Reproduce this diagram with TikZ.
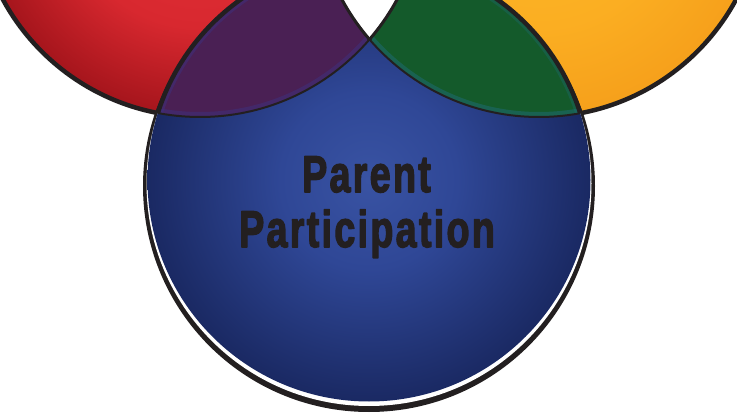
\documentclass[tikz,border=0pt]{standalone}
\usepackage{fontspec}
\setmainfont{Liberation Sans}
\newfontfamily\titlefont{Liberation Sans}[UprightFont=* Bold, LetterSpace=6, FakeBold=3]
\definecolor{ink}{HTML}{231F20}
\definecolor{redin}{HTML}{E3323A}
\definecolor{redmid}{HTML}{D8282F}
\definecolor{redout}{HTML}{A5151C}
\definecolor{yelin}{HTML}{FDB827}
\definecolor{yelmid}{HTML}{FBAE22}
\definecolor{yelout}{HTML}{F6A01B}
\definecolor{bluein}{HTML}{3953A3}
\definecolor{bluemid}{HTML}{2F4796}
\definecolor{blueout}{HTML}{1A2963}
\definecolor{purplefill}{HTML}{4A2054}
\definecolor{greenfill}{HTML}{145A2B}
\definecolor{purpleglow}{HTML}{3D307E}
\definecolor{greenglow}{HTML}{1F6B78}
\pgfdeclareradialshading{redball}{\pgfpoint{0bp}{0bp}}{color(0bp)=(redin); color(15bp)=(redmid); color(25bp)=(redout); color(50bp)=(redout)}
\pgfdeclareradialshading{yelball}{\pgfpoint{0bp}{0bp}}{color(0bp)=(yelin); color(15bp)=(yelmid); color(25bp)=(yelout); color(50bp)=(yelout)}
\pgfdeclareradialshading{blueball}{\pgfpoint{0bp}{0bp}}{color(0bp)=(bluein); color(10bp)=(bluemid); color(25bp)=(blueout); color(50bp)=(blueout)}
\tikzset{
  outline/.style={draw=ink, line width=4.5pt},
  thinline/.style={draw=ink, line width=2pt},
  title/.style={font=\titlefont\fontsize{51.7pt}{60pt}\selectfont, text=ink, inner sep=0pt, anchor=base, xscale=0.73},
}
\begin{document}
\begin{tikzpicture}[x=1pt,y=-1pt,line join=round]
\useasboundingbox (0,0) rectangle (737,417);
\fill[white] (0,0) rectangle (737,417);
\coordinate (rc) at (200,-107);
\coordinate (yc) at (539,-107);
\coordinate (bc) at (369,180);
\coordinate (kc) at (369,186);
\coordinate (wc) at (369,183.5);
% red and yellow circles
\shade[shading=redball] (rc) circle[radius=224pt];
\draw[outline] (rc) circle[radius=224pt];
\shade[shading=yelball] (yc) circle[radius=224pt];
\draw[outline] (yc) circle[radius=224pt];
% blue circle with offset rim
\fill[ink] (kc) circle[radius=226pt];
\fill[white] (wc) circle[radius=222.5pt];
\shade[shading=blueball] (bc) circle[radius=221.5pt];
% overlaps
\begin{scope}
  \clip (bc) circle[radius=221.5pt];
  \fill[purplefill] (rc) circle[radius=224pt];
  \begin{scope}
    \clip (rc) circle[radius=224pt];
    \draw[purpleglow, opacity=0.5, line width=10pt] (rc) circle[radius=224pt];
    \draw[purpleglow, opacity=0.5, line width=10pt] (bc) circle[radius=221.5pt];
  \end{scope}
  \fill[greenfill] (yc) circle[radius=224pt];
  \begin{scope}
    \clip (yc) circle[radius=224pt];
    \draw[greenglow, opacity=0.5, line width=10pt] (yc) circle[radius=224pt];
    \draw[greenglow, opacity=0.35, line width=10pt] (bc) circle[radius=221.5pt];
  \end{scope}
  \begin{scope}
    \clip (rc) circle[radius=224pt];
    \fill[white] (yc) circle[radius=224pt];
  \end{scope}
  \draw[thinline] (rc) circle[radius=224pt];
  \draw[thinline] (yc) circle[radius=224pt];
  \begin{scope}
    \clip (300,-5) rectangle (440,39.5);
    \draw[ink, line width=3pt] (rc) circle[radius=224pt];
    \draw[ink, line width=3pt] (yc) circle[radius=224pt];
  \end{scope}
\end{scope}
% thick blue edge where it crosses red and yellow
\begin{scope}
  \clip (rc) circle[radius=224pt] (yc) circle[radius=224pt];
  \draw[outline] (bc) circle[radius=221.5pt];
\end{scope}
% title
\node[title] (parent) at (366.5,192) {Parent};
\node[title] (participation) at (367,247) {Participation};
\end{tikzpicture}
\end{document}
